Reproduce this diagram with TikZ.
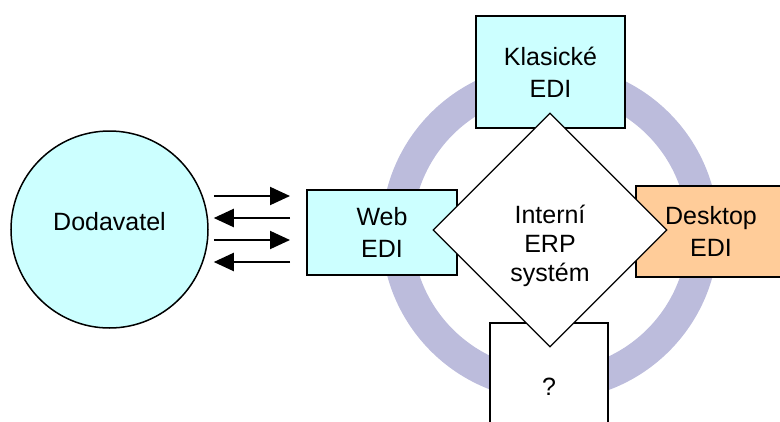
\documentclass[tikz,border=0pt]{standalone}
\usepackage{fontspec}
\setmainfont{Liberation Sans}
\usetikzlibrary{shapes.geometric,arrows.meta}
\definecolor{ediblue}{RGB}{204,255,255}
\definecolor{edipeach}{RGB}{255,204,153}
\definecolor{ringlav}{RGB}{188,188,220}
\begin{document}
\begin{tikzpicture}[x=1pt,y=-1pt,
  lbl/.style={font=\fontsize{25}{32}\selectfont, align=center, text=black},
  box/.style={draw=black, line width=2pt, rectangle, inner sep=0pt, lbl},
  flow/.style={line width=2pt, -{Triangle[length=20pt,width=18pt]}}]
\useasboundingbox (0,0) rectangle (780,421);
\clip (0,0) rectangle (780,421);
% ring behind the EDI variants
\draw[ringlav, line width=31pt] (550,232) circle[radius=153pt];
% EDI variants
\node[box, fill=ediblue, minimum width=149pt, minimum height=112pt] (klas) at (550.5,72) {Klasické\\EDI};
\node[box, fill=ediblue, minimum width=150pt, minimum height=85pt] (web) at (382,232.5) {Web\\EDI};
\node[box, fill=edipeach, minimum width=150pt, minimum height=91pt] (desk) at (711,231.5) {Desktop\\EDI};
\node[box, fill=white, minimum width=118pt, minimum height=128pt] (unk) at (549,387) {?};
% internal ERP system in the middle
\node[diamond, draw=black, line width=1.2pt, fill=white, minimum width=234pt, minimum height=234pt, inner sep=0pt,
  label={[lbl, font=\fontsize{25}{29}\selectfont, yshift=-15.5pt]center:Interní\\ERP\\systém}] (erp) at (550,230) {};
% supplier
\node[circle, draw=black, line width=1.5pt, fill=ediblue, minimum size=197pt, inner sep=0pt,
  label={[lbl, yshift=8pt]center:Dodavatel}] (dod) at (109.5,229.5) {};
% message flows between supplier and web EDI
\draw[flow] ([xshift=5pt]dod.east |- 0,196) -- ([xshift=-16pt]web.west |- 0,196);
\draw[flow] ([xshift=-16pt]web.west |- 0,218) -- ([xshift=5pt]dod.east |- 0,218);
\draw[flow] ([xshift=5pt]dod.east |- 0,240) -- ([xshift=-16pt]web.west |- 0,240);
\draw[flow] ([xshift=-16pt]web.west |- 0,262) -- ([xshift=5pt]dod.east |- 0,262);
\end{tikzpicture}
\end{document}
